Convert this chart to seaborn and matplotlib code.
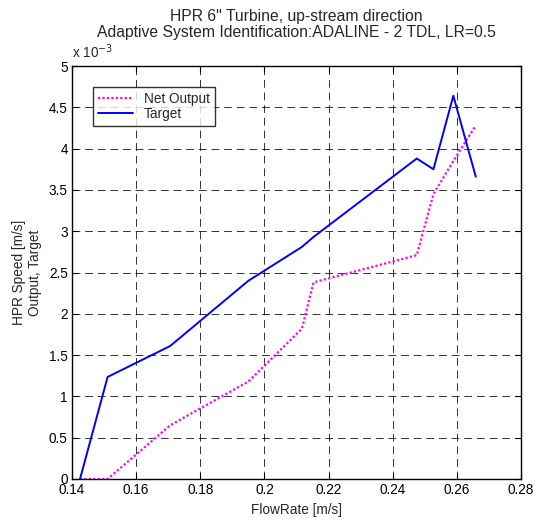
import pandas as pd
import seaborn as sns
import matplotlib.pyplot as plt
from matplotlib.ticker import FuncFormatter, MultipleLocator

# === Data (speed in m/s) ===
flow_rate = [0.1425, 0.1511, 0.1706, 0.1950, 0.2117, 0.2153, 0.2475, 0.2527, 0.2589, 0.2659]
net_output = [0.0, 0.0, 0.65e-3, 1.18e-3, 1.82e-3, 2.38e-3, 2.71e-3, 3.45e-3, 3.85e-3, 4.28e-3]
target = [0.0, 1.235e-3, 1.61e-3, 2.40e-3, 2.81e-3, 2.93e-3, 3.88e-3, 3.75e-3, 4.64e-3, 3.66e-3]

x_ticks = [0.14, 0.16, 0.18, 0.20, 0.22, 0.24, 0.26, 0.28]

df = pd.DataFrame({"FlowRate": flow_rate, "Net Output": net_output, "Target": target})

# === Plot ===
sns.set_style("ticks")
plt.rcParams["font.family"] = ["Liberation Sans", "DejaVu Sans"]

fig = plt.figure(figsize=(5.44, 5.27), dpi=100)
ax = fig.add_axes([72 / 544, 1 - 479 / 527, 449 / 544, 413 / 527])

sns.lineplot(data=df, x="FlowRate", y="Net Output", ax=ax, color="#ff00ff",
             linestyle=(0, (1, 1)), linewidth=1.6, sort=False, label="Net Output")
sns.lineplot(data=df, x="FlowRate", y="Target", ax=ax, color="#0000ff",
             linewidth=1.4, sort=False, label="Target")

ax.set_xlim(0.14, 0.28)
ax.set_ylim(0, 5e-3)
ax.set_xticks(x_ticks)
ax.yaxis.set_major_locator(MultipleLocator(0.5e-3))
ax.xaxis.set_major_formatter(FuncFormatter(lambda v, _: f"{v:g}"))
ax.yaxis.set_major_formatter(FuncFormatter(lambda v, _: f"{round(v * 1e3, 2):g}"))

ax.tick_params(direction="in", top=True, right=True, length=4, width=0.8,
               labelsize=9.8, colors="black", pad=3)
for sp in ax.spines.values():
    sp.set_color("black")
    sp.set_linewidth(1.0)

ax.grid(True, color="black", linestyle=(0, (8, 5)), linewidth=0.7, alpha=0.8)

ax.set_xlabel("FlowRate [m/s]", fontsize=9.8, labelpad=4)
ax.set_ylabel("HPR Speed [m/s]\nOutput, Target", fontsize=9.8, labelpad=5)
ax.set_title("HPR 6\" Turbine, up-stream direction\nAdaptive System Identification:ADALINE - 2 TDL, LR=0.5",
             fontsize=11.3, pad=21, linespacing=1.05)
ax.text(0.0, 1.012, r"x 10$^{-3}$", transform=ax.transAxes, fontsize=9.8,
        ha="left", va="bottom")

leg = ax.legend(loc="upper left", bbox_to_anchor=(0.047, 0.949), fontsize=9.8,
                frameon=True, fancybox=False, borderaxespad=0, handlelength=2.6,
                labelspacing=0.1, borderpad=0.35, handletextpad=0.8)
leg.get_frame().set_edgecolor("black")
leg.get_frame().set_linewidth(1.0)

fig.savefig("out.png", dpi=100)
